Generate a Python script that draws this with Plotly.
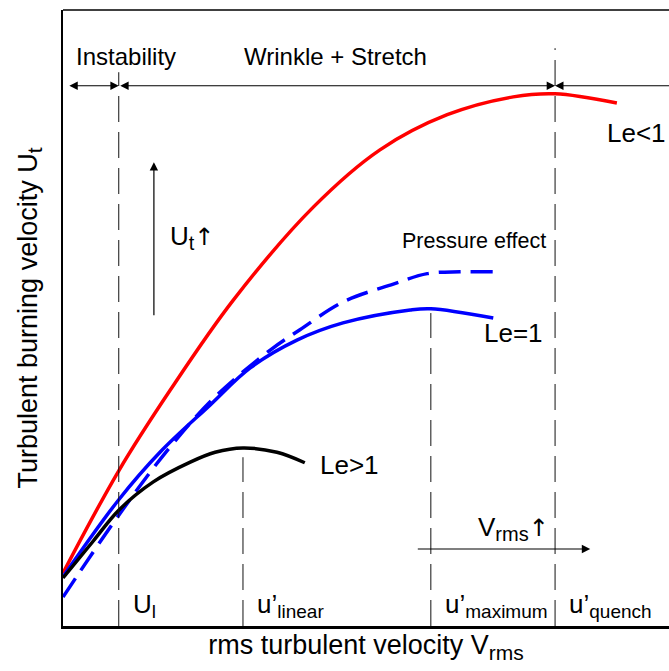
import plotly.graph_objects as go

# Characteristic turbulence intensities (x positions of the regime markers)
u_l = 0.92
u_linear = 2.97
u_maximum = 6.07
u_quench = 8.12

# Turbulent burning velocity curves
le_lt1_x = [0, 0.92, 1.77, 2.81, 4.13, 5.23, 6.34, 7.43, 8.12, 9.14]
le_lt1_y = [0.86, 2.52, 3.83, 5.29, 6.80, 7.73, 8.30, 8.59, 8.64, 8.49]

le_eq1_x = [0, 0.92, 1.60, 2.43, 3.09, 3.86, 4.62, 5.73, 6.07, 7.10]
le_eq1_y = [0.80, 2.05, 2.82, 3.59, 4.19, 4.64, 4.92, 5.13, 5.15, 5.00]

pressure_x = [0, 0.92, 1.77, 2.51, 3.42, 3.91, 4.62, 5.45, 6.01, 6.55, 7.10]
pressure_y = [0.47, 1.80, 2.91, 3.72, 4.48, 4.81, 5.26, 5.55, 5.72, 5.75, 5.75]

le_gt1_x = [0, 0.50, 0.92, 1.49, 2.10, 2.51, 2.97, 3.53, 3.99]
le_gt1_y = [0.78, 1.38, 1.88, 2.34, 2.66, 2.82, 2.89, 2.82, 2.65]

FONT = "Liberation Sans, Arial, Helvetica, sans-serif"
ARROW_FONT = "DejaVu Sans"


def sub(text, size):
    return f"<sub><span style='font-size:{size}px'>{text}</span></sub>"


def up_arrow(size):
    return f"<span style='font-family:{ARROW_FONT};font-size:{size}px'>↑</span>"


fig = go.Figure()

curve_specs = [
    (le_lt1_x, le_lt1_y, "#ff0000", "solid"),
    (pressure_x, pressure_y, "#0000ff", "22px,10px"),
    (le_eq1_x, le_eq1_y, "#0000ff", "solid"),
    (le_gt1_x, le_gt1_y, "#000000", "solid"),
]
for xs, ys, color, dash in curve_specs:
    fig.add_trace(go.Scatter(
        x=xs, y=ys, mode="lines",
        line=dict(color=color, width=3.5, dash=dash, shape="spline", smoothing=1.0),
        hoverinfo="skip", showlegend=False,
    ))

# Vertical dashed regime markers (x, upper end)
markers = [
    (u_l, 8.99),
    (u_linear, 2.74),
    (u_maximum, 5.08),
    (u_quench, 9.38),
]
for mx, top in markers:
    fig.add_shape(type="line", x0=mx, x1=mx, y0=0, y1=top, xref="x", yref="y",
                  line=dict(color="#111111", width=1, dash="26px,10px"))

# Thin top border of the frame
fig.add_shape(type="line", x0=0, x1=1, y0=1, y1=1, xref="paper", yref="paper",
              line=dict(color="#000000", width=1.5))

arrow_y = 8.77
arrow_common = dict(xref="x", yref="y", axref="x", ayref="y", text="",
                    showarrow=True, arrowhead=2, startarrowhead=2,
                    arrowsize=1.4, startarrowsize=1.4, arrowwidth=1.2,
                    arrowcolor="#000000", standoff=0, startstandoff=0)
# Instability band
fig.add_annotation(x=u_l, y=arrow_y, ax=0.08, ay=arrow_y, arrowside="end+start", **arrow_common)
# Wrinkle + Stretch band
fig.add_annotation(x=u_quench, y=arrow_y, ax=u_l, ay=arrow_y, arrowside="end+start", **arrow_common)
# Quench band (runs off the right edge)
fig.add_annotation(x=u_quench, y=arrow_y, ax=10.2, ay=arrow_y, arrowside="end", **arrow_common)
# U_t increase arrow
fig.add_annotation(x=1.50, y=7.53, ax=1.50, ay=5.02, arrowside="end", **arrow_common)
# V_rms increase arrow
fig.add_annotation(x=8.70, y=1.25, ax=5.83, ay=1.25, arrowside="end", **arrow_common)

labels = [
    ("Instability", 1.04, 9.25, "center", "middle", 24),
    ("Wrinkle + Stretch", 4.49, 9.25, "center", "middle", 24),
    ("Le&lt;1", 8.94, 8.0, "left", "middle", 26),
    ("Le=1", 6.91, 4.76, "left", "middle", 26),
    ("Le&gt;1", 4.21, 2.61, "left", "middle", 26),
    ("Pressure effect", 5.56, 6.25, "left", "middle", 21.5),
    ("U" + sub("t", 20) + up_arrow(24), 1.74, 6.30, "left", "middle", 26),
    ("V" + sub("rms", 20) + up_arrow(24), 6.82, 1.58, "left", "middle", 26),
    ("U" + sub("l", 19), 1.12, 0.03, "left", "bottom", 26),
    ("u’" + sub("linear", 19), 3.16, 0.03, "left", "bottom", 26),
    ("u’" + sub("maximum", 19), 6.27, 0.03, "left", "bottom", 26),
    ("u’" + sub("quench", 19), 8.31, 0.03, "left", "bottom", 26),
]
for text, lx, ly, xa, ya, size in labels:
    fig.add_annotation(x=lx, y=ly, xref="x", yref="y", text=text, showarrow=False,
                       xanchor=xa, yanchor=ya, font=dict(family=FONT, size=size, color="#000000"))

fig.update_layout(
    width=669, height=671,
    margin=dict(l=63, r=0, t=10, b=45),
    paper_bgcolor="#ffffff", plot_bgcolor="#ffffff",
    font=dict(family=FONT, color="#000000"),
    showlegend=False,
)
fig.update_xaxes(range=[0, 10], showgrid=False, zeroline=False, showticklabels=False,
                 ticks="", showline=True, linecolor="#000000", linewidth=2.5, mirror=False,
                 title=dict(text="rms turbulent velocity V" + sub("rms", 21),
                            font=dict(family=FONT, size=27), standoff=8))
fig.update_yaxes(range=[0, 10], showgrid=False, zeroline=False, showticklabels=False,
                 ticks="", showline=True, linecolor="#000000", linewidth=2, mirror=False,
                 title=dict(text="Turbulent burning velocity U" + sub("t", 21),
                            font=dict(family=FONT, size=27), standoff=16))

fig.write_html("out.html")
